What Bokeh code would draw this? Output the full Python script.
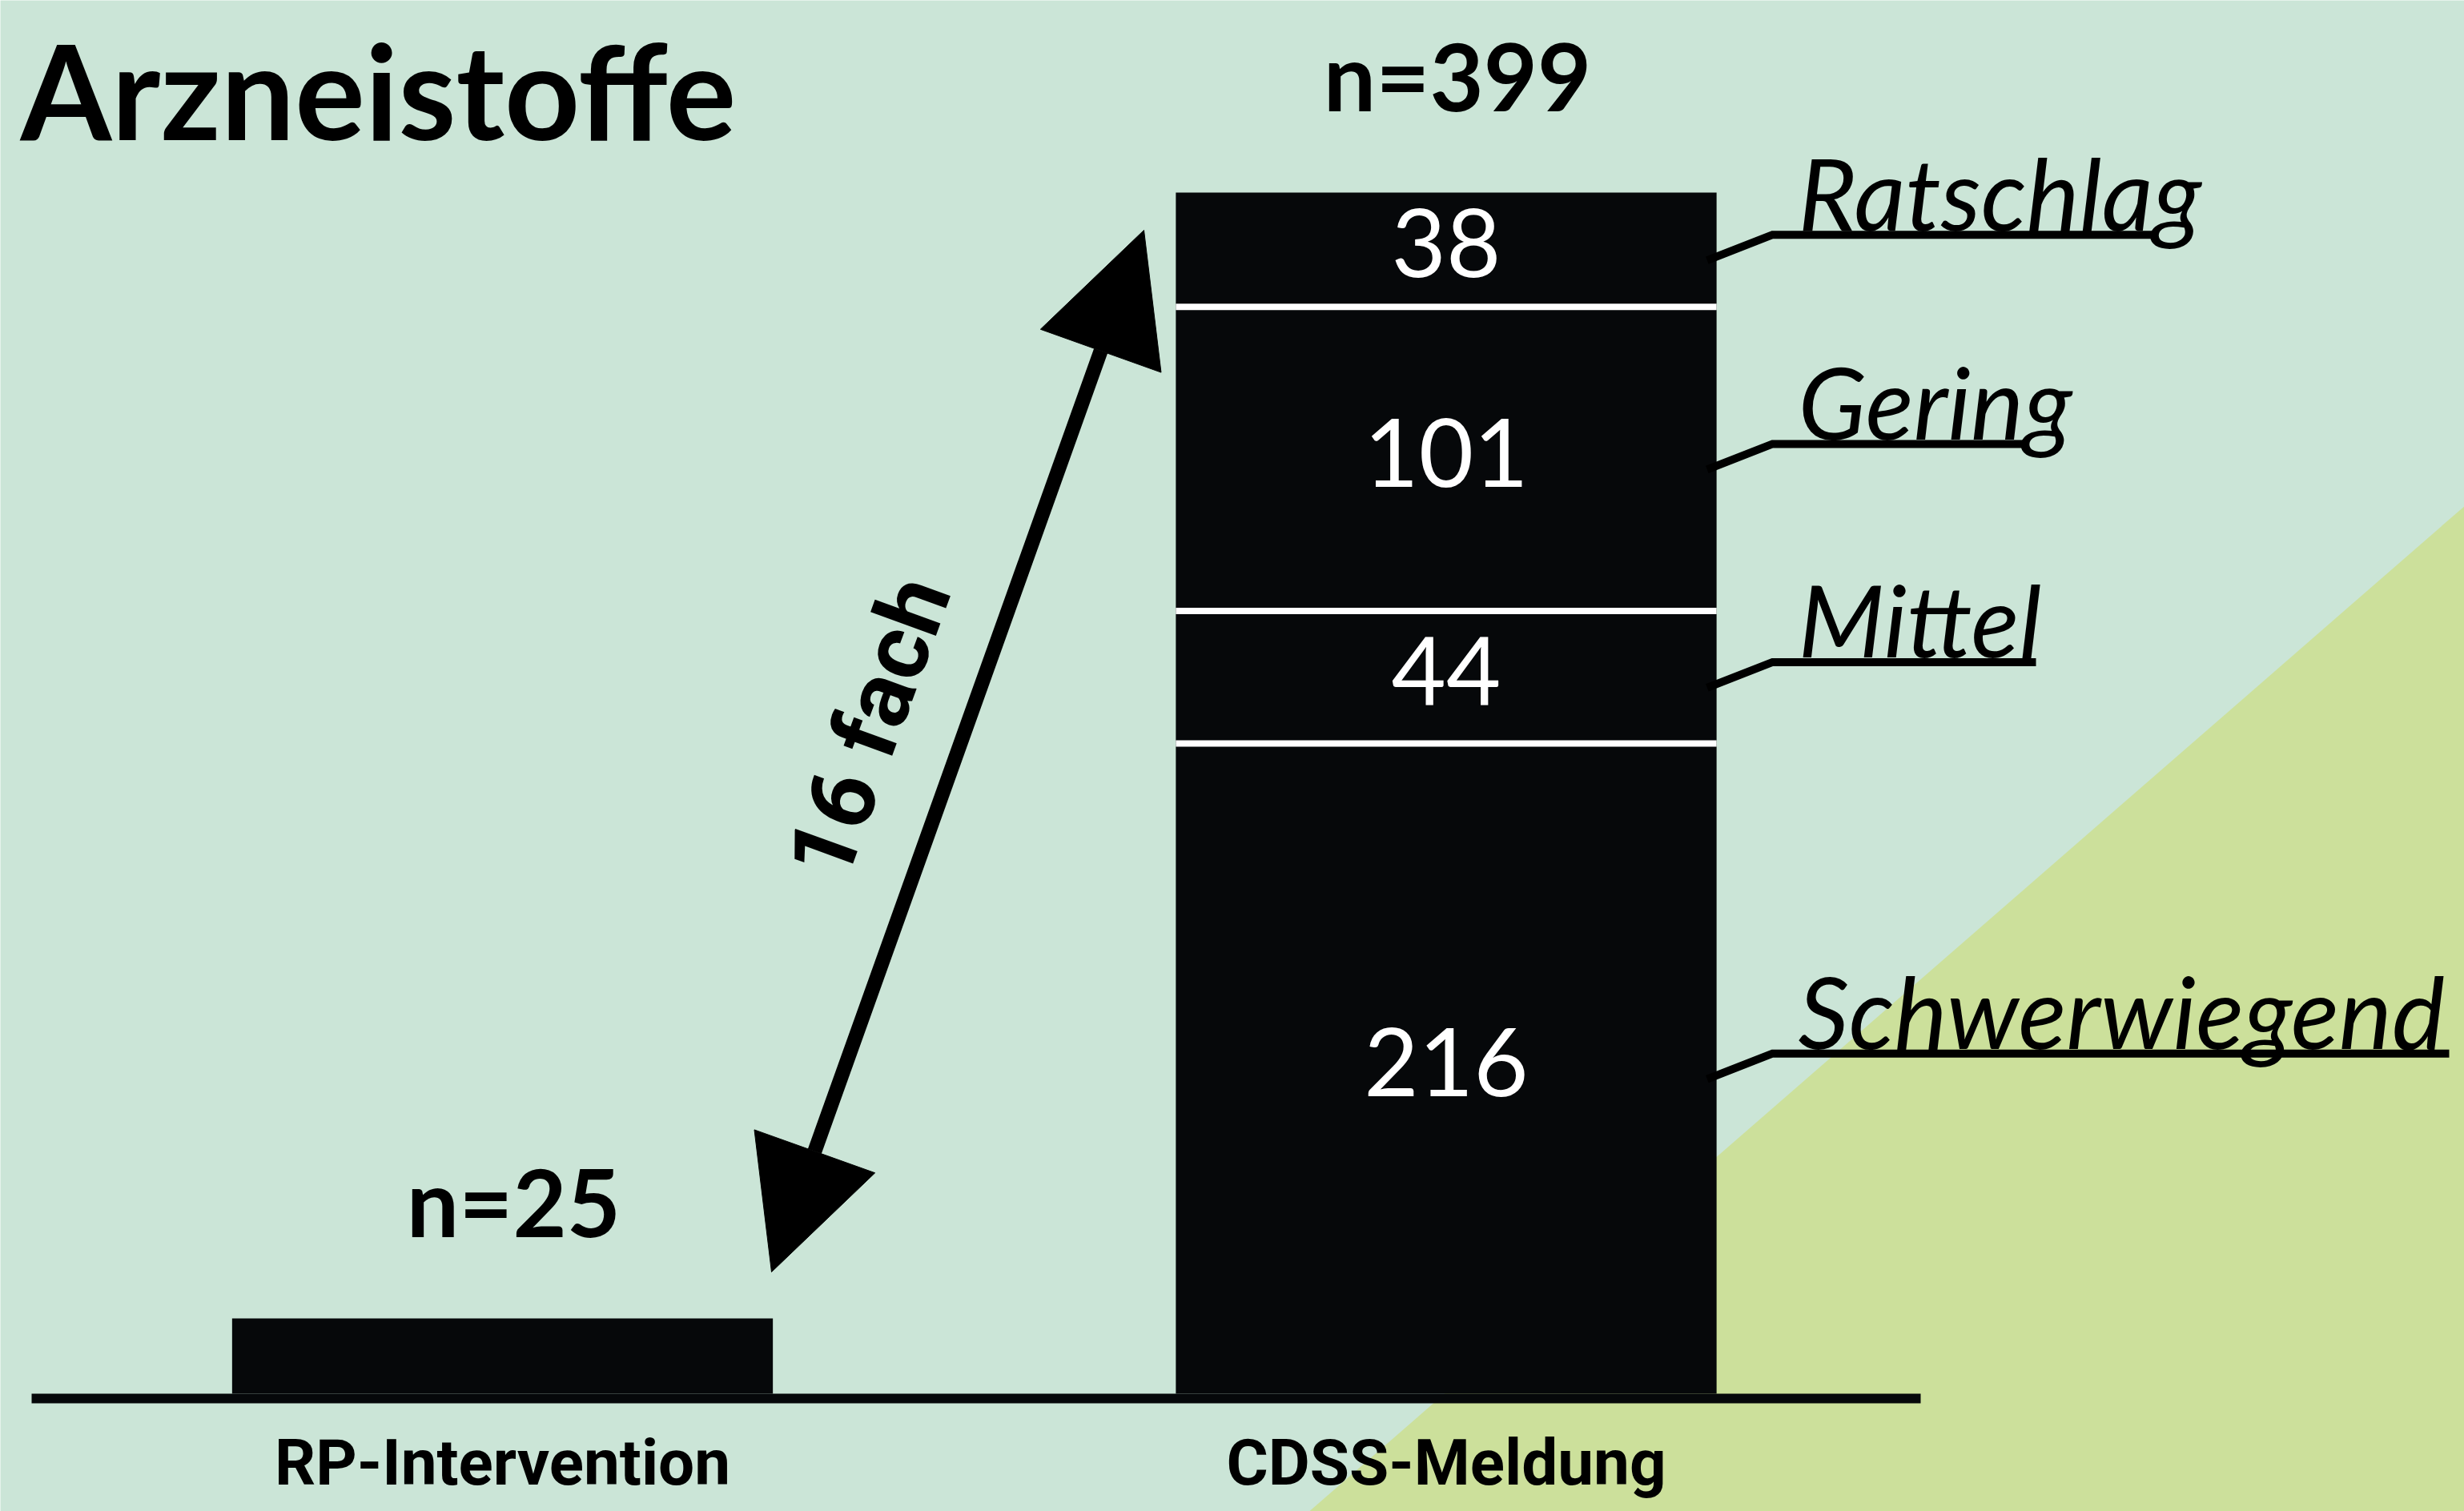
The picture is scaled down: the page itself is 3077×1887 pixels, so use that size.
from bokeh.plotting import figure
from bokeh.models import Range1d, Arrow, NormalHead, ColumnDataSource
from bokeh.core.properties import value
from bokeh.embed import file_html
from bokeh.resources import INLINE
import numpy as np

# ---------------- data ----------------
title = "Arzneistoffe"
categories = ["RP-Intervention", "CDSS-Meldung"]
totals = [25, 399]
severity_labels = ["Schwerwiegend", "Mittel", "Gering", "Ratschlag"]   # bottom -> top
severity_values = [216, 44, 101, 38]
ratio_label = "16 fach"

# ---------------- layout / style ----------------
W, H = 3077, 1887
BG = "#cbe5d7"
TRI = "#cce09b"
BAR = "#06080a"
X0_PX = 627.0          # pixel centre of category 0
PX_PER_CAT = 1178.5    # pixels between category centres
Y0_PX = 1740.0         # pixel row of value 0
PX_PER_UNIT = 1500.0 / 399.0
BAR_W = 0.573
underline_end_px = [3058, 2542, 2528, 2689]   # where each label's underline stops


def X(px):
    return (px - X0_PX) / PX_PER_CAT


def Y(py):
    return (Y0_PX - py) / PX_PER_UNIT


def U(px):  # pixel length -> value units
    return px / PX_PER_UNIT


p = figure(width=W, height=H, x_range=Range1d(X(0), X(W)), y_range=Range1d(Y(H), Y(0)),
           output_backend="svg", toolbar_location=None, min_border=0,
           x_axis_type=None, y_axis_type=None,
           background_fill_color=BG, border_fill_color=BG, outline_line_color=None)
p.grid.visible = False

# background decoration triangle
p.patch(x=[X(1623), X(W + 10), X(W + 10)], y=[Y(H + 10), Y(623), Y(H + 10)],
        fill_color=TRI, line_color=None)

xpos = list(range(len(categories)))

# RP bar
p.vbar(x=[xpos[0]], bottom=[0], top=[totals[0]], width=BAR_W, fill_color=BAR, line_color=None)

# stacked CDSS bar
tops = np.cumsum(severity_values)
bottoms = tops - np.array(severity_values)
mids = (tops + bottoms) / 2
seg_src = ColumnDataSource(dict(x=[xpos[1]] * len(severity_values), bottom=bottoms, top=tops,
                                mid=mids, val=[str(v) for v in severity_values]))
p.vbar(x="x", bottom="bottom", top="top", width=BAR_W, fill_color=BAR, line_color=None, source=seg_src)

# white separators
p.segment(x0=[xpos[1] - BAR_W / 2] * 3, x1=[xpos[1] + BAR_W / 2] * 3,
          y0=list(tops[:-1]), y1=list(tops[:-1]), line_color="white", line_width=8)

# value labels in segments
p.text(x="x", y="mid", text="val", source=seg_src, text_color="white",
       text_font=value("Lato"), text_font_size="118px", text_align="center",
       text_baseline="middle", y_offset=-8)

# baseline
p.segment(x0=[X(39)], x1=[X(2398)], y0=[Y(1746)], y1=[Y(1746)], line_color=BAR, line_width=12)

# n labels
p.text(x=xpos, y=[t + 29 + U(0.3225 * 116) for t in totals], text=[f"n={t}" for t in totals],
       text_font=value("Lato"), text_font_style="bold", text_font_size="116px",
       text_align="center", text_baseline="middle", text_color="black", x_offset=14)

# category labels
p.text(x=xpos, y=[Y(1850 - 0.292 * 80)] * 2, text=categories, text_font=value("Roboto"),
       text_font_style="bold", text_font_size="80px", text_align="center",
       text_baseline="middle", text_color="black")

# severity labels with leader lines + underline
bar_right = xpos[1] + BAR_W / 2
xs, ys = [], []
for i, m in enumerate(mids):
    u = m + 5
    xs.append([bar_right - 0.01, X(2213), X(underline_end_px[i])])
    ys.append([m - 3.5, u, u])
p.multi_line(xs=xs, ys=ys, line_color="black", line_width=10, line_join="miter")
p.text(x=[X(2245)] * len(severity_labels), y=[m + 8.5 + U(0.3225 * 125) for m in mids],
       text=severity_labels,
       text_font=value("Lato"), text_font_style="italic", text_font_size="125px",
       text_align="left", text_baseline="middle", text_color="black")

# double arrow
p.add_layout(Arrow(start=NormalHead(size=160, fill_color="black", line_color="black"),
                   end=NormalHead(size=160, fill_color="black", line_color="black"),
                   x_start=X(963), y_start=Y(1588), x_end=X(1428), y_end=Y(287),
                   line_color="black", line_width=18))
p.text(x=[X(1084)], y=[Y(908)], text=[ratio_label], angle=np.deg2rad(70),
       text_font=value("Roboto"), text_font_style="bold", text_font_size="116px",
       text_align="center", text_baseline="middle", text_color="black")

# title
TITLE_SIZE = 164
p.text(x=[X(25)], y=[Y(164 - 0.3225 * TITLE_SIZE)], text=[title], text_font=value("Lato"),
       text_font_style="bold", text_font_size=f"{TITLE_SIZE}px", text_align="left",
       text_baseline="middle", text_color="black")

open("out.html", "w").write(file_html(p, INLINE))
